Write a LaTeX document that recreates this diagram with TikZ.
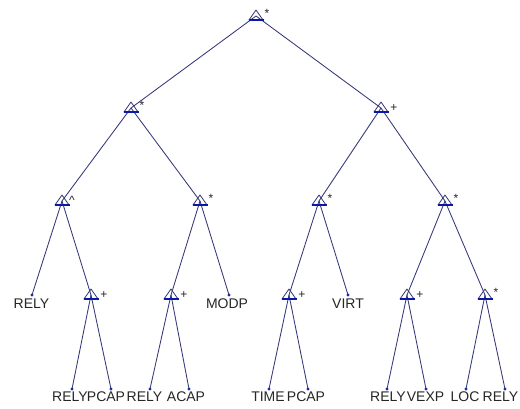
\documentclass[tikz,border=0pt]{standalone}
\usepackage{fontspec}
\setmainfont{Liberation Sans}
\definecolor{edgec}{HTML}{353878}
\definecolor{basec}{HTML}{0A18A8}
\definecolor{dotc}{HTML}{1424C8}
\definecolor{txtc}{HTML}{262626}
\begin{document}
\begin{tikzpicture}[x=1pt,y=-1pt,
  edge/.style={draw=edgec, line width=0.85pt},
  leaf/.style={circle, fill=dotc, inner sep=0pt, minimum size=3.2pt},
  word/.style={font=\fontsize{14}{14}\selectfont, text=txtc, inner sep=0pt, anchor=north},
  op/.style={font=\fontsize{12}{12}\selectfont, text=txtc, inner sep=0pt}]
\useasboundingbox (0,0) rectangle (520,408);
\fill[white] (0,0) rectangle (520,408);

% operator nodes (centre of each triangle)
\coordinate (r)  at (256,16);
\coordinate (a)  at (131,108);
\coordinate (b)  at (381,108);
\coordinate (c)  at (62,201);
\coordinate (d)  at (200,201);
\coordinate (e)  at (319,201);
\coordinate (f)  at (445,201);
\coordinate (g)  at (91,295);
\coordinate (h)  at (171,295);
\coordinate (i)  at (289,295);
\coordinate (j)  at (407,295);
\coordinate (k)  at (485,295);

% leaves
\node[leaf] (l1)  at (32,295) {};
\node[leaf] (l2)  at (229,295) {};
\node[leaf] (l3)  at (348,295) {};
\node[leaf] (m1)  at (72,389) {};
\node[leaf] (m2)  at (111,389) {};
\node[leaf] (m3)  at (150,389) {};
\node[leaf] (m4)  at (189,389) {};
\node[leaf] (m5)  at (269,389) {};
\node[leaf] (m6)  at (308,389) {};
\node[leaf] (m7)  at (387,389) {};
\node[leaf] (m8)  at (426,389) {};
\node[leaf] (m9)  at (466,389) {};
\node[leaf] (m10) at (505,389) {};

% connectors
\draw[edge] (r) -- (a);  \draw[edge] (r) -- (b);
\draw[edge] (a) -- (c);  \draw[edge] (a) -- (d);
\draw[edge] (b) -- (e);  \draw[edge] (b) -- (f);
\draw[edge] (c) -- (l1.center); \draw[edge] (c) -- (g);
\draw[edge] (d) -- (h);  \draw[edge] (d) -- (l2.center);
\draw[edge] (e) -- (i);  \draw[edge] (e) -- (l3.center);
\draw[edge] (f) -- (j);  \draw[edge] (f) -- (k);
\draw[edge] (g) -- (m1.center); \draw[edge] (g) -- (m2.center);
\draw[edge] (h) -- (m3.center); \draw[edge] (h) -- (m4.center);
\draw[edge] (i) -- (m5.center); \draw[edge] (i) -- (m6.center);
\draw[edge] (j) -- (m7.center); \draw[edge] (j) -- (m8.center);
\draw[edge] (k) -- (m9.center); \draw[edge] (k) -- (m10.center);

% triangles with their blue base
\foreach \n in {r,a,b,c,d,e,f,g,h,i,j,k}{
  \draw[edgec, line width=0.8pt, line join=round]
    ([shift={(0,-6)}]\n) -- ([shift={(-7,4)}]\n) -- ([shift={(7,4)}]\n) -- cycle;
  \draw[basec, line width=1.3pt] ([shift={(-7.5,4)}]\n) -- ([shift={(7.5,4)}]\n);
}

% operator labels
\node[op] (or) at ([shift={(11,-3)}]r) {*};
\node[op] (oa) at ([shift={(11,-3)}]a) {*};
\node[op] (ob) at ([shift={(13,0)}]b) {+};
\node[op] (oc) at ([shift={(10,-1)}]c) {\textasciicircum};
\node[op] (od) at ([shift={(11,-3)}]d) {*};
\node[op] (oe) at ([shift={(11,-3)}]e) {*};
\node[op] (of) at ([shift={(11,-3)}]f) {*};
\node[op] (og) at ([shift={(13,0)}]g) {+};
\node[op] (oh) at ([shift={(13,0)}]h) {+};
\node[op] (oi) at ([shift={(13,0)}]i) {+};
\node[op] (oj) at ([shift={(13,0)}]j) {+};
\node[op] (ok) at ([shift={(11,-3)}]k) {*};

% leaf words
\node[word] (t1)  at (31.5,299) {RELY};
\node[word] (t2)  at (227,299) {MODP};
\node[word] (t3)  at (348,299) {VIRT};
\node[word] (u1)  at (70,392) {RELY};
\node[word] (u2)  at (106,392) {PCAP};
\node[word] (u3)  at (144.5,392) {RELY};
\node[word] (u4)  at (186,392) {ACAP};
\node[word] (u5)  at (268,392) {TIME};
\node[word] (u6)  at (306,392) {PCAP};
\node[word] (u7)  at (388,392) {RELY};
\node[word] (u8)  at (425.5,392) {VEXP};
\node[word] (u9)  at (465,392) {LOC};
\node[word] (u10) at (500.5,392) {RELY};
\end{tikzpicture}
\end{document}
